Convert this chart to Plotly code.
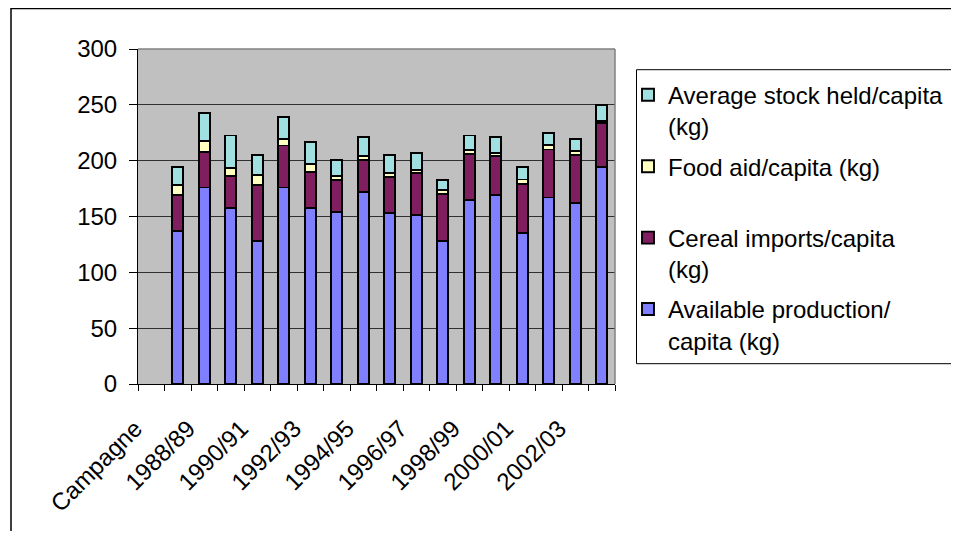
import plotly.graph_objects as go

categories = ["Campagne", "1987/88", "1988/89", "1989/90", "1990/91", "1991/92", "1992/93",
              "1993/94", "1994/95", "1995/96", "1996/97", "1997/98", "1998/99", "1999/00",
              "2000/01", "2001/02", "2002/03", "2003/04"]
production = [None, 137, 176, 158, 128, 176, 158, 154, 172, 153, 151, 128, 165, 169, 135, 167, 162, 194]
imports = [None, 32, 32, 28.6, 50, 37.6, 32, 29, 29, 32, 37.6, 42, 41, 35.5, 44.5, 43, 43, 39.4]
food_aid = [None, 9, 9.6, 7.2, 9, 6, 7, 3, 3.5, 3.6, 3, 3.6, 3.3, 2, 3.6, 3.9, 3.3, 1.8]
stock = [None, 16, 25, 28.7, 18, 19.4, 20, 15, 16.5, 16.4, 15, 9.2, 13.2, 14.3, 11, 10.7, 11, 14.3]

series_names = ["Available production/<br>capita (kg)", "Cereal imports/capita<br>(kg)",
                "Food aid/capita (kg)<br> ", "Average stock held/capita<br>(kg)"]
series_values = [production, imports, food_aid, stock]
series_colors = ["#8080FF", "#7F1F5F", "#FFFFC0", "#A0E0E0"]
legend_ranks = [4, 3, 2, 1]

x_idx = list(range(len(categories)))
label_idx = x_idx[0::2][:9]

FONT = "Liberation Sans, Arial, sans-serif"

fig = go.Figure()
for name, vals, col, rk in zip(series_names, series_values, series_colors, legend_ranks):
    fig.add_trace(go.Bar(
        x=x_idx, y=vals, name=name, legendgroup=name, legendrank=rk,
        marker=dict(color=col, line=dict(color="black", width=1.9)),
        width=0.42,
    ))

# page body has an 8px margin: figure coords = screen coords - 8
OFF = 8
L, R, T, B = 138 - OFF, 615 - OFF, 49.3 - OFF, 384.3 - OFF
W, H = 959 - OFF, 539 - 2 * OFF

def px(x):
    return (x - OFF - L) / (R - L)

def py(y):
    return (B - (y - OFF)) / (B - T)

fig.update_layout(
    width=W, height=H,
    margin=dict(l=L, r=W - R, t=T, b=H - B, autoexpand=False),
    barmode="stack",
    paper_bgcolor="white",
    plot_bgcolor="#C0C0C0",
    font=dict(family=FONT, size=24, color="black"),
    showlegend=True,
    legend=dict(
        x=px(628), y=py(73), xanchor="left", yanchor="top",
        traceorder="grouped", tracegroupgap=6, valign="top",
        bgcolor="rgba(0,0,0,0)", borderwidth=0,
        font=dict(family=FONT, size=24, color="black"),
    ),
    xaxis=dict(
        range=[-0.5, len(categories) - 0.5], automargin=False,
        tickmode="array", tickvals=label_idx, ticktext=[categories[i] for i in label_idx],
        tickangle=-45, ticks="", showgrid=False, zeroline=False,
        showline=True, linecolor="black", linewidth=1,
        ticklabelshift=-16, ticklabelstandoff=20,
        minor=dict(ticks="outside", tick0=-0.5, dtick=1, ticklen=6, tickcolor="black", showgrid=False),
        tickfont=dict(family=FONT, size=24),
    ),
    yaxis=dict(
        range=[0, 300], dtick=50, ticks="outside", ticklen=8, tickcolor="black",
        automargin=False, ticklabelstandoff=7,
        showgrid=True, gridcolor="#303030", gridwidth=1, zeroline=False,
        showline=True, linecolor="black", linewidth=1,
        tickfont=dict(family=FONT, size=24),
    ),
    shapes=[
        dict(type="line", xref="paper", yref="paper", x0=0, x1=1, y0=1, y1=1,
             line=dict(color="#808080", width=1.5)),
        dict(type="line", xref="paper", yref="paper", x0=1, x1=1, y0=0, y1=1,
             line=dict(color="#808080", width=1.5)),
        # outer chart border
        dict(type="rect", xref="paper", yref="paper", x0=px(11), x1=px(1000), y0=py(8.75), y1=py(600),
             line=dict(color="black", width=1.5)),
        # legend box (runs past the right edge, as in the original)
        dict(type="rect", xref="paper", yref="paper", x0=px(636.5), x1=px(1000), y0=py(70), y1=py(364),
             line=dict(color="black", width=1)),
    ],
)

fig.write_html("out.html")
